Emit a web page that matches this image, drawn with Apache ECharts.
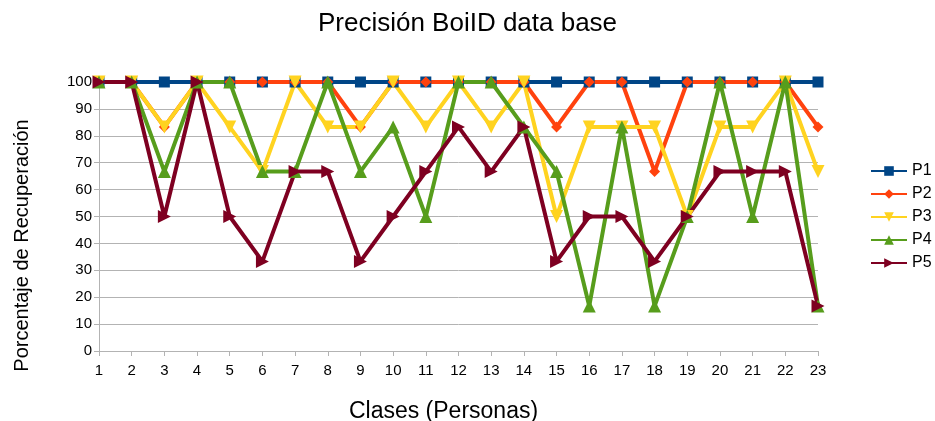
<!DOCTYPE html>
<html>
<head>
<meta charset="utf-8">
<script src="https://cdn.jsdelivr.net/npm/echarts@6/dist/echarts.min.js"></script>
<style>
html,body{margin:0;padding:0;background:#fff;}
#chart{width:935px;height:421px;}
</style>
</head>
<body>
<div id="chart"></div>
<script>
// Classes (persons) on the x axis
const categories = ['1','2','3','4','5','6','7','8','9','10','11','12','13','14','15','16','17','18','19','20','21','22','23'];

// Recovery percentage per class for each test
const p1 = [100,100,100,100,100,100,100,100,100,100,100,100,100,100,100,100,100,100,100,100,100,100,100];
const p2 = [100,100,83.3,100,100,100,100,100,83.3,100,100,100,100,100,83.3,100,100,66.7,100,100,100,100,83.3];
const p3 = [100,100,83.3,100,83.3,66.7,100,83.3,83.3,100,83.3,100,83.3,100,50,83.3,83.3,83.3,50,83.3,83.3,100,66.7];
const p4 = [100,100,66.7,100,100,66.7,66.7,100,66.7,83.3,50,100,100,83.3,66.7,16.7,83.3,16.7,50,100,50,100,16.7];
const p5 = [100,100,50,100,50,33.3,66.7,66.7,33.3,50,66.7,83.3,66.7,83.3,33.3,50,50,33.3,50,66.7,66.7,66.7,16.7];

const font = 'Liberation Sans, Arial, sans-serif';

function lineSeries(name, data, color, symbol, rotate, size) {
  return {
    name: name,
    type: 'line',
    data: data,
    symbol: symbol,
    symbolSize: size,
    symbolRotate: rotate,
    showAllSymbol: true,
    lineStyle: { color: color, width: 4 },
    itemStyle: { color: color },
    emphasis: { disabled: true },
    animation: false
  };
}

const chart = echarts.init(document.getElementById('chart'));
chart.setOption({
  backgroundColor: '#ffffff',
  title: {
    text: 'Precisión BoiID data base',
    left: 'center',
    top: 6,
    textStyle: { fontFamily: font, fontSize: 26, fontWeight: 'normal', color: '#000' }
  },
  legend: {
    orient: 'vertical',
    left: 865,
    top: 158,
    itemGap: 7,
    itemWidth: 36,
    itemHeight: 12,
    textStyle: { fontFamily: font, fontSize: 16, color: '#000' },
    data: ['P1','P2','P3','P4','P5']
  },
  grid: { left: 99, right: 117, top: 82, bottom: 70, containLabel: false, outerBoundsMode: 'none' },
  xAxis: {
    type: 'category',
    data: categories,
    boundaryGap: false,
    name: 'Clases (Personas)',
    nameLocation: 'middle',
    nameGap: 49,
    nameTextStyle: { fontFamily: font, fontSize: 23, color: '#000', padding: [0, 30, 0, 0] },
    axisLine: { lineStyle: { color: '#b3b3b3' } },
    axisTick: { show: true, length: 5, lineStyle: { color: '#b3b3b3' } },
    axisLabel: { fontFamily: font, fontSize: 15, color: '#000', margin: 12 },
    splitLine: { show: false }
  },
  yAxis: {
    type: 'value',
    min: 0,
    max: 100,
    interval: 10,
    name: 'Porcentaje de Recuperación',
    nameLocation: 'middle',
    nameGap: 67,
    nameTextStyle: { fontFamily: font, fontSize: 20, color: '#000', padding: [0, 58, 0, 0] },
    axisLine: { show: true, lineStyle: { color: '#b3b3b3' } },
    axisTick: { show: true, length: 5, lineStyle: { color: '#b3b3b3' } },
    axisLabel: { fontFamily: font, fontSize: 15, color: '#000', margin: 7 },
    splitLine: { show: true, lineStyle: { color: '#b3b3b3', width: 1 } }
  },
  series: [
    lineSeries('P1', p1, '#004586', 'rect', 0, 11),
    lineSeries('P2', p2, '#ff420e', 'diamond', 0, 11),
    lineSeries('P3', p3, '#ffd320', 'triangle', 180, 13),
    lineSeries('P4', p4, '#579d1c', 'triangle', 0, 13),
    lineSeries('P5', p5, '#7e0021', 'triangle', -90, 13)
  ]
});
</script>
</body>
</html>
